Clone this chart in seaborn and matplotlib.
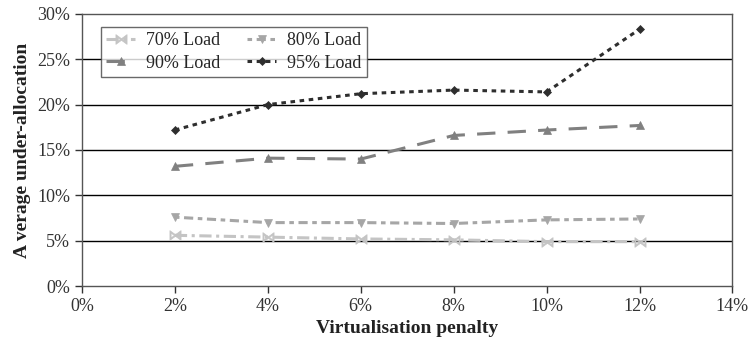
import numpy as np
import pandas as pd
import seaborn as sns
import matplotlib.pyplot as plt
from matplotlib.ticker import FuncFormatter

sns.set_style("white")
plt.rcParams["font.family"] = ["Liberation Serif", "DejaVu Serif"]

penalty = [2, 4, 6, 8, 10, 12]
load_70 = [5.6, 5.4, 5.2, 5.1, 4.9, 4.9]
load_80 = [7.6, 7.0, 7.0, 6.9, 7.3, 7.4]
load_90 = [13.2, 14.1, 14.0, 16.6, 17.2, 17.7]
load_95 = [17.2, 20.0, 21.2, 21.6, 21.4, 28.3]
series = ["70% Load", "80% Load", "90% Load", "95% Load"]

df = pd.DataFrame({"penalty": penalty * 4,
                   "value": load_70 + load_80 + load_90 + load_95,
                   "load": sum([[s] * len(penalty) for s in series], [])})

fig = plt.figure(figsize=(7.52, 3.55), dpi=100)
ax = fig.add_axes([0.109, 0.194, 0.865, 0.767])

colors = {"70% Load": "#c4c4c4", "80% Load": "#a6a6a6",
          "90% Load": "#808080", "95% Load": "#2e2e2e"}
markers = {"70% Load": "$\\bowtie$", "80% Load": "v",
           "90% Load": "^", "95% Load": "D"}
dashes = {"70% Load": (4, 1.5, 1, 1.5), "80% Load": (1.5, 1.5, 3, 1.5),
          "90% Load": (6, 4), "95% Load": (1.5, 1.5)}
sizes = {"70% Load": 8, "80% Load": 6, "90% Load": 6, "95% Load": 4.5}

for s in series:
    sub = df[df["load"] == s]
    sns.lineplot(data=sub, x="penalty", y="value", ax=ax, color=colors[s],
                 marker=markers[s], markersize=sizes[s], linewidth=2.2,
                 dashes=False, label=s, markeredgewidth=0.5,
                 markeredgecolor=colors[s])
    ax.lines[-1].set_dashes(dashes[s])

for y in range(5, 30, 5):
    ax.axhline(y, color="black", linewidth=1, zorder=0)

ax.set_xlim(0, 14)
ax.set_ylim(0, 30)
ax.set_xticks(range(0, 15, 2))
ax.set_yticks(range(0, 31, 5))
ax.xaxis.set_major_formatter(FuncFormatter(lambda v, p: f"{v:.0f}%"))
ax.yaxis.set_major_formatter(FuncFormatter(lambda v, p: f"{v:.0f}%"))
ax.tick_params(axis="both", direction="out", length=5, width=1,
               labelsize=13, colors="#333333", bottom=True, left=True)
for sp in ax.spines.values():
    sp.set_color("#555555")
    sp.set_linewidth(1)

ax.set_xlabel("Virtualisation penalty", fontsize=14, fontweight="bold",
              color="#222222")
ax.set_ylabel("A verage under-allocation", fontsize=14, fontweight="bold",
              color="#222222")

# row-wise legend order: 70, 80 / 90, 95
handles, labels = ax.get_legend_handles_labels()
order = [0, 2, 1, 3]
leg = ax.legend([handles[i] for i in order], [labels[i] for i in order],
                ncol=2, loc="upper left", bbox_to_anchor=(0.015, 0.985),
                fontsize=13, frameon=True, fancybox=False, handlelength=1.6,
                columnspacing=1.5, handletextpad=0.6, borderpad=0.3,
                labelspacing=0.3)
leg.get_frame().set_edgecolor("#444444")
leg.get_frame().set_linewidth(1)

fig.savefig("out.png", dpi=100)
